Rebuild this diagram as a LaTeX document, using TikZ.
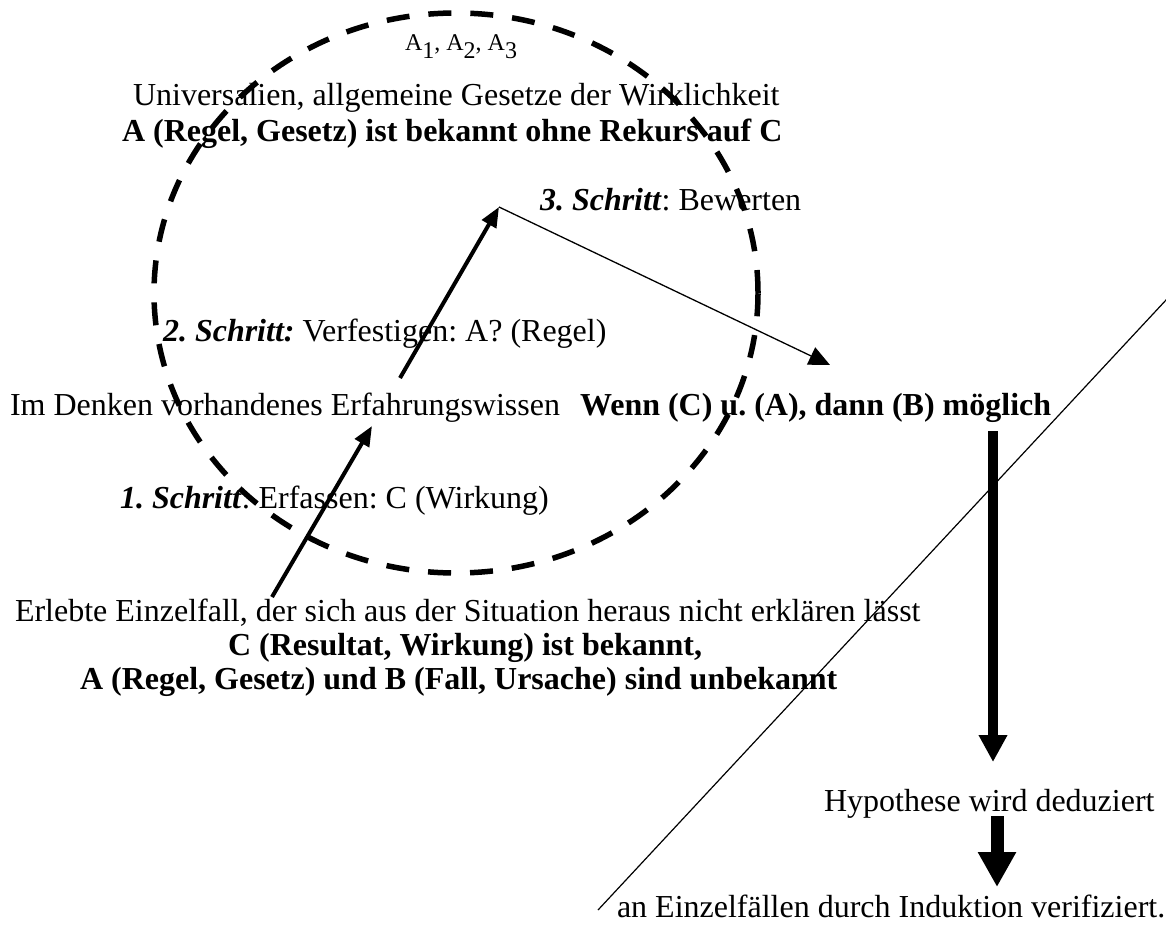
\documentclass[tikz,border=0pt]{standalone}
\usepackage{fontspec}
\setmainfont{Liberation Serif}
\usetikzlibrary{arrows.meta}

\tikzset{
  txt/.style={anchor=base west, inner sep=0pt, outer sep=0pt, font=\fontsize{32}{38}\selectfont},
  idx/.style={anchor=base west, inner sep=0pt, outer sep=0pt, font=\fontsize{24}{28}\selectfont},
  ring/.style={line width=5.5pt, dash pattern=on 23pt off 19pt},
  steparrow/.style={line width=4pt, -{Triangle[length=20pt, width=16pt]}},
  thinarrow/.style={line width=1.3pt, -{Triangle[length=21pt, width=19pt]}},
  bigarrow/.style={line width=10pt, -{Triangle[length=27pt, width=27pt]}},
  hugearrow/.style={line width=13pt, -{Triangle[length=35pt, width=36pt]}},
  divider/.style={line width=1.2pt}
}
\newcommand{\schr}[1]{\textbf{\textit{#1}}}
\frenchspacing

\begin{document}
\begin{tikzpicture}[x=1pt, y=-1pt]
\useasboundingbox (0,0) rectangle (1166,931);
\clip (0,0) rectangle (1166,931);

% texts of the upper part
\node[idx] (auni) at (405,51) {A\raisebox{-8pt}{1}, A\raisebox{-8pt}{2}, A\raisebox{-8pt}{3}};
\node[txt] (univ) at (133,106) {Universalien, allgemeine Gesetze der Wirklichkeit};
\node[txt] (regel) at (122,141) {\textbf{A (Regel, Gesetz) ist bekannt ohne Rekurs auf C}};
\node[txt] (s3) at (540,210) {\schr{3. Schritt}: Bewerten};
\node[txt] (s2) at (163,341) {\schr{2. Schritt:} Verfestigen: A? (Regel)};
\node[txt] (denk) at (10,415) {Im Denken vorhandenes Erfahrungswissen\hspace{20pt}\textbf{Wenn (C) u. (A), dann (B) möglich}};
\node[txt] (s1) at (120,508) {\schr{1. Schritt}: Erfassen: C (Wirkung)};

% texts of the lower part
\node[txt] (fall) at (15,621) {Erlebte Einzelfall, der sich aus der Situation heraus nicht erklären lässt};
\node[txt] (cbek) at (228,655) {\textbf{C (Resultat, Wirkung) ist bekannt,}};
\node[txt] (abun) at (80,689) {\textbf{A (Regel, Gesetz) und B (Fall, Ursache) sind unbekannt}};
\node[txt] (hypo) at (824,811) {Hypothese wird deduziert};
\node[txt] (indu) at (617,917) {an Einzelfällen durch Induktion verifiziert.};

% dashed ring of the universal laws
\draw[ring] (456,293) ellipse [x radius=302pt, y radius=280pt];

% arrow end points
\coordinate (p1) at (272,597);
\coordinate (p2) at (372,426);
\coordinate (p3) at (400,378);
\coordinate (p4) at (499,207);
\coordinate (p5) at (830,365);
\coordinate (q1) at (993,431);
\coordinate (q2) at (993,762);
\coordinate (q3) at (997,816);
\coordinate (q4) at (997,887);
\coordinate (d1) at (1180,285);
\coordinate (d2) at (598,910);

% steps
\draw[steparrow] (p1) -- (p2);
\draw[steparrow] (p3) -- (p4);
\draw[thinarrow] (p4) -- (p5);

% deduction and induction
\draw[bigarrow] (q1) -- (q2);
\draw[hugearrow] (q3) -- (q4);

% diagonal divider
\draw[divider] (d1) -- (d2);
\end{tikzpicture}
\end{document}
